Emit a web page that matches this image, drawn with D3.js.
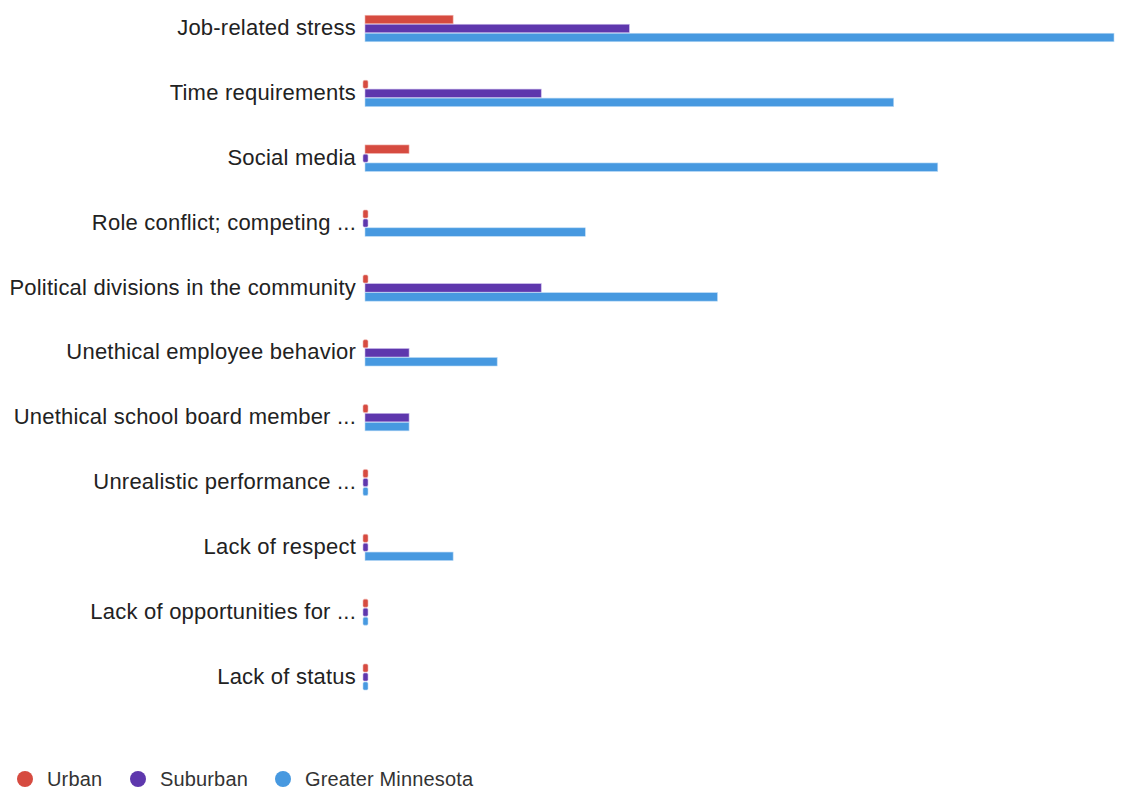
<!DOCTYPE html>
<html>
<head>
<meta charset="utf-8">
<script src="https://cdn.jsdelivr.net/npm/d3@7"></script>
<style>
  html, body { margin: 0; padding: 0; background: #fff; }
  svg { display: block; font-family: "Liberation Sans", Arial, Helvetica, sans-serif; }
</style>
</head>
<body>
<svg id="chart" width="1131" height="790"></svg>
<script>
const categories = [
  "Job-related stress",
  "Time requirements",
  "Social media",
  "Role conflict; competing ...",
  "Political divisions in the community",
  "Unethical employee behavior",
  "Unethical school board member ...",
  "Unrealistic performance ...",
  "Lack of respect",
  "Lack of opportunities for ...",
  "Lack of status"
];
const seriesNames = ["Urban", "Suburban", "Greater Minnesota"];
const urban    = [2, 0, 1, 0, 0, 0, 0, 0, 0, 0, 0];
const suburban = [6, 4, 0, 0, 4, 1, 1, 0, 0, 0, 0];
const greater  = [17, 12, 13, 5, 8, 3, 1, 0, 2, 0, 0];
const colors = ["#d64b40", "#5e37ad", "#4799e0"];
const strokes = ["#f0b4ae", "#c9b9ea", "#b9d9f5"];

const seriesValues = [urban, suburban, greater];

const svg = d3.select("#chart");

const x = d3.scaleLinear().domain([0, 17]).range([365, 1114]);
const yCenter = d3.scalePoint().domain(categories).range([28.5, 677]);
const groupH = 27;
const inner = d3.scaleBand().domain(seriesNames).range([-groupH / 2, groupH / 2]);

const groups = svg.append("g").selectAll("g")
  .data(categories)
  .join("g")
  .attr("transform", d => `translate(0,${yCenter(d)})`);

groups.append("text")
  .attr("x", 356)
  .attr("y", -1)
  .attr("dy", "0.35em")
  .attr("text-anchor", "end")
  .attr("font-size", 22)
  .attr("letter-spacing", 0.22)
  .attr("fill", "#222")
  .text(d => d);

groups.each(function(cat, i) {
  const g = d3.select(this);
  seriesNames.forEach((s, j) => {
    const v = seriesValues[j][i];
    const w = x(v) - x(0);
    if (v > 0) {
      g.append("rect")
        .attr("x", x(0))
        .attr("y", inner(s) + 0.25)
        .attr("width", w)
        .attr("height", inner.bandwidth() - 0.5)
        .attr("fill", colors[j])
        .attr("stroke", strokes[j])
        .attr("stroke-width", 0.6);
    } else {
      g.append("rect")
        .attr("x", x(0) - 2)
        .attr("y", inner(s) + 0.5)
        .attr("width", 5)
        .attr("height", inner.bandwidth() - 1)
        .attr("rx", 1.5)
        .attr("fill", colors[j])
        .attr("stroke", strokes[j])
        .attr("stroke-width", 0.6);
    }
  });
});

// Legend
const legendX = [25, 138, 283];
const legend = svg.append("g").selectAll("g")
  .data(seriesNames)
  .join("g")
  .attr("transform", (d, i) => `translate(${legendX[i]},779)`);
legend.append("circle")
  .attr("r", 8)
  .attr("fill", (d, i) => colors[i]);
legend.append("text")
  .attr("x", 22)
  .attr("dy", "0.35em")
  .attr("font-size", 20)
  .attr("letter-spacing", 0.15)
  .attr("fill", "#333")
  .text(d => d);
</script>
</body>
</html>
